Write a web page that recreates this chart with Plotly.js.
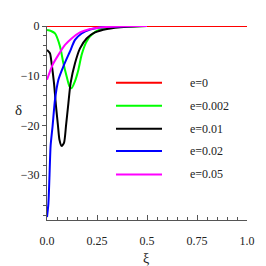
<!DOCTYPE html>
<html><head><meta charset="utf-8">
<script src="https://cdn.plot.ly/plotly-3.0.1.min.js"></script>
<style>html,body{margin:0;padding:0;background:#fff}#c{width:266px;height:266px}</style>
</head><body><div id="c"></div>
<script>
const labels = ["e=0", "e=0.002", "e=0.01", "e=0.02", "e=0.05"];
const colors = ["#ff0000", "#00ff00", "#000000", "#0000ff", "#ff00ff"];

const xi0 = [0, 0.25, 0.5, 0.75, 1];
const v0  = [0, 0, 0, 0, 0];

const xi1 = [0, 0.02, 0.04, 0.065, 0.082, 0.098, 0.112, 0.123, 0.14, 0.157, 0.173, 0.198, 0.23, 0.28, 0.35, 0.45, 0.5];
const v1  = [-0.8, -1.0, -1.5, -4.1, -7.5, -10.1, -12.1, -12.5, -11.1, -8.8, -5.8, -3.1, -1.5, -0.5, -0.15, -0.03, 0];

const xi2 = [0, 0.015, 0.023, 0.035, 0.045, 0.055, 0.062, 0.073, 0.085, 0.095, 0.107, 0.118, 0.14, 0.165, 0.198, 0.24, 0.3, 0.4, 0.5];
const v2  = [-4.8, -5.5, -7.5, -11.5, -16.1, -20.1, -22.8, -24.1, -23.5, -20.1, -15.5, -11.5, -7.5, -4.5, -2.5, -1.3, -0.6, -0.15, 0];

const xi3 = [0, 0.007, 0.012, 0.018, 0.028, 0.04, 0.057, 0.082, 0.115, 0.14, 0.173, 0.215, 0.265, 0.35, 0.45];
const v3  = [-38.4, -35.7, -30.7, -24.1, -20.1, -14.8, -10.8, -8.1, -5.1, -2.8, -1.5, -0.7, -0.3, -0.08, 0];

const xi4 = [0, 0.015, 0.032, 0.057, 0.09, 0.123, 0.165, 0.207, 0.265, 0.35, 0.45, 0.5];
const v4  = [-10.8, -9.1, -7.5, -5.8, -3.8, -2.5, -1.3, -0.7, -0.3, -0.1, -0.02, 0];

const xTickVals = [0, 0.25, 0.5, 0.75, 1];
const xTickText = ["0.0", "0.25", "0.5", "0.75", "1.0"];
const yTickVals = [0, -10, -20, -30];
const yTickText = ["0", "\u221210", "\u221220", "\u221230"];

const xs = [xi0, xi1, xi2, xi3, xi4];
const ys = [v0, v1, v2, v3, v4];

const traces = xs.map((x, i) => ({
  x: x, y: ys[i], type: 'scatter', mode: 'lines', name: labels[i],
  line: {color: colors[i], width: 2, shape: 'spline', smoothing: 0.6},
  cliponaxis: false, showlegend: false, hoverinfo: 'skip'
}));

const serif = "Liberation Serif";
const shapes = [];
const annotations = [];
const rowY = [0.708, 0.589, 0.470, 0.356, 0.235];
labels.forEach((lab, i) => {
  shapes.push({type: 'line', xref: 'paper', yref: 'paper', x0: 0.345, x1: 0.575, y0: rowY[i], y1: rowY[i],
    line: {color: colors[i], width: 2}});
  annotations.push({xref: 'paper', yref: 'paper', x: 0.705, y: rowY[i], xanchor: 'left', yanchor: 'middle',
    text: lab, showarrow: false, font: {family: serif, size: 12, color: '#222'}});
});
annotations.push({xref: 'paper', yref: 'paper', x: 0.495, y: -0.2, xanchor: 'center', yanchor: 'middle',
  text: '\u03be', showarrow: false, font: {family: serif, size: 14, color: '#222'}});
annotations.push({xref: 'paper', yref: 'paper', x: -0.145, y: 0.565, xanchor: 'center', yanchor: 'middle',
  text: '\u03b4', showarrow: false, font: {family: serif, size: 15, color: '#222'}});

const layout = {
  width: 266, height: 266,
  margin: {l: 47, r: 19, t: 26, b: 46},
  paper_bgcolor: '#fff', plot_bgcolor: '#fff',
  showlegend: false,
  xaxis: {range: [0, 1], showgrid: false, zeroline: false, showline: true, linecolor: '#555', linewidth: 1,
    tickvals: xTickVals, ticktext: xTickText, ticks: 'inside', ticklen: 5, tickcolor: '#555',
    ticklabelstandoff: 10,
    minor: {dtick: 0.05, ticks: 'inside', ticklen: 3, tickcolor: '#555'},
    tickfont: {family: serif, size: 12, color: '#222'}},
  yaxis: {range: [-39, 0], showgrid: false, zeroline: false, showline: true, linecolor: '#555', linewidth: 1,
    tickvals: yTickVals, ticktext: yTickText, ticks: 'outside', ticklen: 4, tickcolor: '#555',
    minor: {dtick: 2, ticks: 'outside', ticklen: 3, tickcolor: '#555'},
    tickfont: {family: serif, size: 12, color: '#222'}},
  shapes: shapes, annotations: annotations
};
Plotly.newPlot('c', traces, layout, {staticPlot: true, displayModeBar: false});
</script></body></html>
